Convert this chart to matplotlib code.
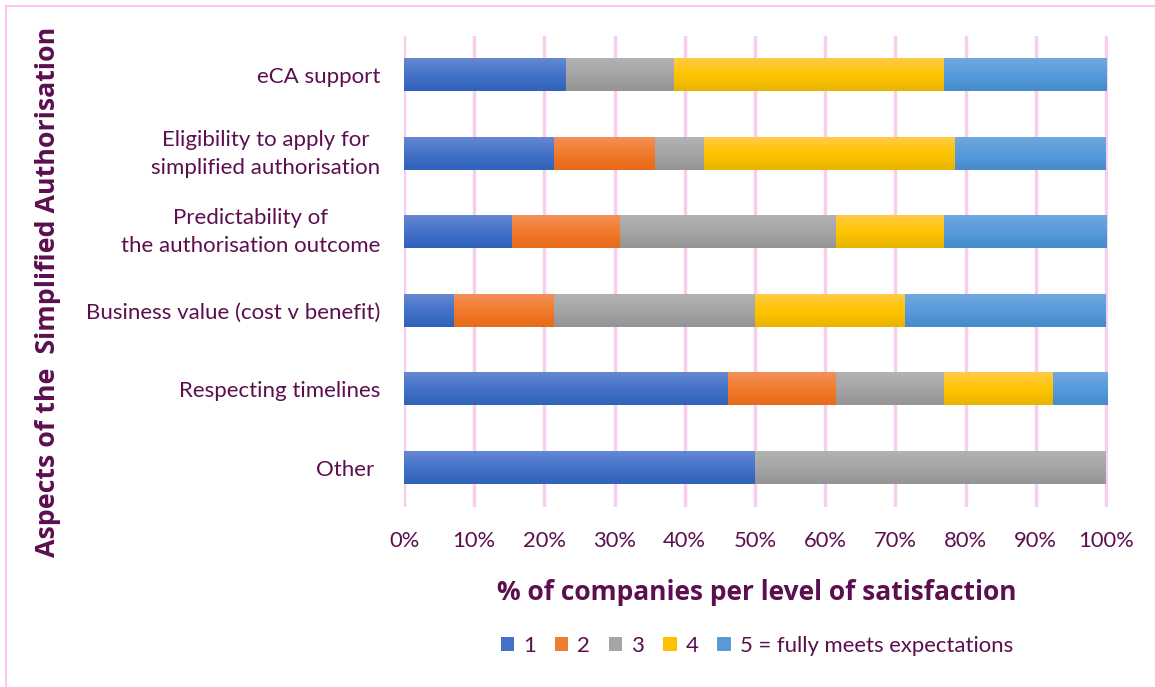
import matplotlib
matplotlib.use("Agg")
import matplotlib.pyplot as plt
import matplotlib.transforms as mtransforms
import numpy as np
from matplotlib.colors import LinearSegmentedColormap
from matplotlib.patches import Rectangle, Patch

categories = ["eCA support",
              "Eligibility to apply for\nsimplified authorisation",
              "Predictability of\nthe authorisation outcome",
              "Business value (cost v benefit)",
              "Respecting timelines",
              "Other "]
series_names = ["1", "2", "3", "4", "5 = fully meets expectations"]
level1 = [23.1, 21.4, 15.4, 7.1, 46.2, 50.0]
level2 = [0.0, 14.3, 15.4, 14.3, 15.4, 0.0]
level3 = [15.4, 7.1, 30.8, 28.6, 15.4, 50.0]
level4 = [38.5, 35.7, 15.4, 21.4, 15.4, 0.0]
level5 = [23.1, 21.4, 23.1, 28.6, 7.7, 0.0]
xticks = [0, 10, 20, 30, 40, 50, 60, 70, 80, 90, 100]
xticklabels = [f"{v}%" for v in xticks]

series = [level1, level2, level3, level4, level5]
base_colors = ["#4472C4", "#ED7D31", "#A5A5A5", "#FFC000", "#5B9BD5"]
grads = [
    ["#6588D3", "#4472C8", "#2F62BA"],
    ["#F18F5A", "#F27B2B", "#E66A1A"],
    ["#B2B2B2", "#A5A5A5", "#949494"],
    ["#FFCA48", "#FFC400", "#E8B400"],
    ["#70A8DF", "#579BDC", "#458CCB"],
]
text_color = "#5C0F4F"
grid_color = "#F9CDEE"

fig = plt.figure(figsize=(11.55, 6.87), dpi=100)
W, H = 1155, 687
ax = fig.add_axes([404 / W, 1 - 507 / H, (1108 - 404) / W, (507 - 36) / H])

y = np.arange(len(categories))
left = np.zeros(len(categories))
for vals, col, g in zip(series, base_colors, grads):
    bars = ax.barh(y, vals, left=left, height=0.41, color=col, edgecolor="none", zorder=3)
    cmap = LinearSegmentedColormap.from_list("g", g)
    grad = np.linspace(0, 1, 64).reshape(-1, 1)
    for b in bars:
        if b.get_width() <= 0:
            continue
        x0, y0 = b.get_x(), b.get_y()
        w, h = b.get_width(), b.get_height()
        ax.imshow(grad, cmap=cmap, aspect="auto", extent=(x0, x0 + w, y0 + h, y0),
                  origin="upper", zorder=4, interpolation="bilinear")
    left = left + np.array(vals)

ax.set_xlim(0, 100.3)
ax.set_ylim(len(categories) - 0.5, -0.5)
ax.set_yticks(y)
ax.set_yticklabels([""] * len(categories))
tr = mtransforms.blended_transform_factory(ax.transAxes, ax.transData) + \
    mtransforms.ScaledTranslation(-24 / 100, 0, fig.dpi_scale_trans)
for yi, cat in zip(y, categories):
    va = "center" if "\n" in cat else "center_baseline"
    ax.text(0, yi, cat, transform=tr, ha="right", va=va, fontsize=16,
            color=text_color, family="Lato", linespacing=1.5, multialignment="center")
ax.set_xticks(xticks)
ax.set_xticklabels(xticklabels, fontsize=15.8, color=text_color, family="Lato")
ax.tick_params(axis="y", length=0, pad=17)
ax.tick_params(axis="x", length=0, pad=17)
for s in ax.spines.values():
    s.set_visible(False)
ax.set_axisbelow(True)
ax.xaxis.grid(True, color=grid_color, linewidth=2.5, zorder=0)

fig.text(757 / W, 1 - 592 / H, "% of companies per level of satisfaction", ha="center",
         va="center", fontsize=19, fontweight="bold", color=text_color, family="Open Sans")

fig.text(48 / W, 1 - 292 / H, "Aspects of the  Simplified Authorisation", rotation=90,
         ha="center", va="center", fontsize=19.3, fontweight="bold", color=text_color,
         family="Open Sans")

handles = [Patch(facecolor=c, edgecolor="none") for c in base_colors]
leg = fig.legend(handles, series_names, loc="center", bbox_to_anchor=(757 / W, 1 - 646 / H),
                 ncol=5, frameon=False, handlelength=0.6, handleheight=0.6,
                 columnspacing=0.85, handletextpad=0.42, prop={"family": "Lato", "size": 15.9})
for t in leg.get_texts():
    t.set_color(text_color)

fig.patches.append(Rectangle((6 / W, -0.1), 1.2, 1 - 6 / H + 0.1, transform=fig.transFigure,
                             fill=False, edgecolor="#F9C8F0", linewidth=1.5))

fig.savefig("out.png", dpi=100, facecolor="white")
